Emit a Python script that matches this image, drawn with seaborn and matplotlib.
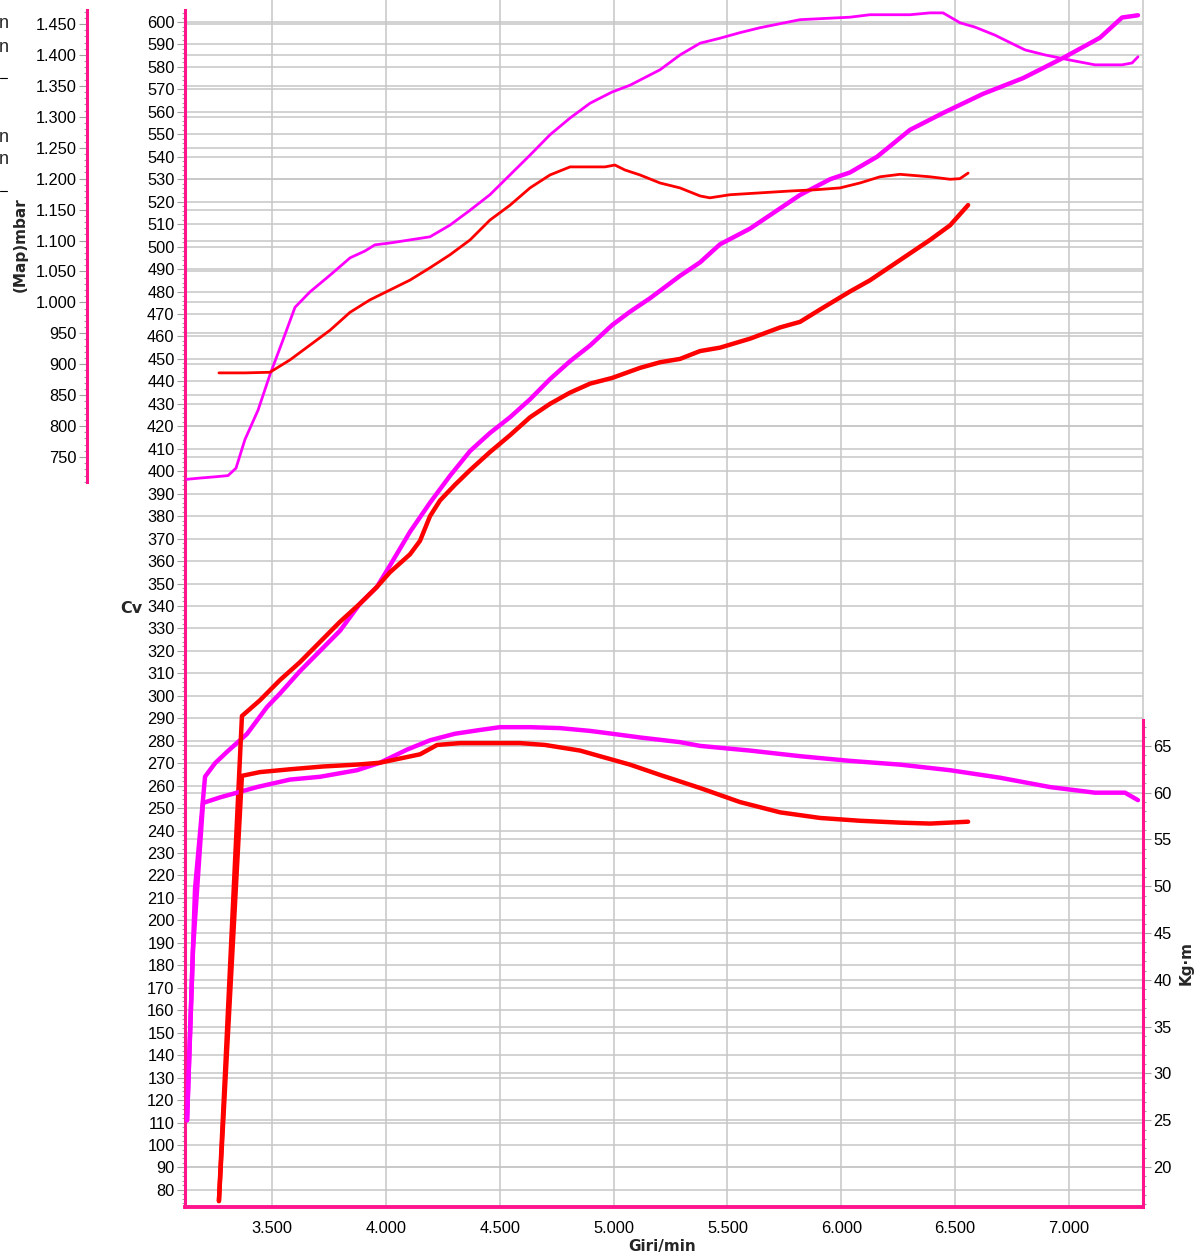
import numpy as np
import seaborn as sns
import matplotlib.pyplot as plt
from matplotlib.ticker import FixedLocator, FuncFormatter
from matplotlib.lines import Line2D

# --- power curves (Cv) ---
pow_mag_rpm = [3127, 3162, 3206, 3250, 3302, 3390, 3478, 3535, 3623, 3711, 3799, 3886, 3961,
               4018, 4106, 4194, 4282, 4370, 4457, 4545, 4633, 4721, 4809, 4897, 4993, 5072,
               5160, 5292, 5380, 5467, 5599, 5731, 5819, 5951, 6038, 6157, 6302, 6447, 6622,
               6798, 6974, 7136, 7233, 7303]
pow_mag_cv = [111, 214, 264, 270, 275, 283, 295, 301, 311, 320, 329, 341, 348.5,
              358, 373, 386, 398, 409, 417, 424, 432, 441, 449, 456, 465, 471,
              477, 487, 493, 501, 508, 517, 523, 530, 533, 540, 552, 559.5, 568,
              575, 584, 593, 602, 603]

pow_red_rpm = [3267, 3368, 3447, 3535, 3623, 3711, 3799, 3886, 3961, 4018, 4106, 4150, 4194,
               4238, 4304, 4370, 4457, 4545, 4633, 4721, 4809, 4897, 4993, 5116, 5204, 5292,
               5380, 5467, 5599, 5731, 5819, 5907, 6038, 6126, 6258, 6390, 6478, 6557]
pow_red_cv = [75, 291, 298, 307, 315, 324, 333, 341, 348.5, 355, 363, 369, 380,
              387, 394, 400.5, 408.5, 416, 424, 430, 435, 439, 441.5, 446, 448.5, 450,
              453.5, 455, 459, 464, 466.5, 472, 480, 485, 494, 503, 509.5, 518.5]

# --- torque curves (Kg*m) ---
trq_mag_rpm = [3127, 3153, 3197, 3272, 3346, 3434, 3579, 3711, 3873, 3974, 4093, 4194, 4304,
               4413, 4501, 4633, 4765, 4897, 4993, 5116, 5292, 5380, 5599, 5819, 6038, 6258,
               6478, 6697, 6917, 7114, 7246, 7303]
trq_mag_kg = [25.0, 43.2, 58.9, 59.5, 60.0, 60.6, 61.4, 61.7, 62.4, 63.2, 64.6, 65.6, 66.3,
              66.7, 67.0, 67.0, 66.9, 66.6, 66.3, 65.9, 65.4, 65.0, 64.5, 63.9, 63.4, 63.0,
              62.4, 61.6, 60.6, 60.0, 60.0, 59.2]

trq_red_rpm = [3267, 3368, 3447, 3579, 3724, 3873, 3974, 4150, 4225, 4326, 4589, 4699, 4853,
               4940, 5072, 5204, 5380, 5555, 5731, 5907, 6082, 6258, 6390, 6557]
trq_red_kg = [16.4, 61.8, 62.2, 62.5, 62.8, 63.0, 63.2, 64.1, 65.1, 65.3, 65.3, 65.1, 64.5,
              63.9, 63.0, 61.9, 60.5, 59.0, 57.9, 57.3, 57.0, 56.8, 56.7, 56.9]

# --- manifold pressure (mbar) ---
map_mag_rpm = [3127, 3184, 3250, 3307, 3342, 3381, 3439, 3491, 3548, 3601, 3667, 3755, 3843,
               3908, 3952, 4018, 4106, 4194, 4282, 4370, 4457, 4545, 4633, 4721, 4809, 4897,
               4993, 5072, 5204, 5292, 5380, 5467, 5555, 5643, 5819, 6038, 6126, 6302, 6390,
               6447, 6521, 6587, 6675, 6763, 6808, 6895, 7000, 7114, 7233, 7277, 7303]
map_mag_mbar = [714, 716, 718, 720, 732, 778, 826, 883, 939, 992, 1017, 1044, 1072,
                1083, 1093, 1096, 1101, 1106, 1125, 1149, 1174, 1206, 1238, 1271, 1298, 1322,
                1340, 1351, 1376, 1400, 1419, 1427, 1436, 1444, 1457, 1461, 1465, 1465, 1468,
                1468, 1452, 1445, 1432, 1416, 1408, 1400, 1392, 1384, 1384, 1387, 1397]

map_red_rpm = [3267, 3381, 3491, 3579, 3667, 3755, 3843, 3930, 4018, 4106, 4194, 4282, 4370,
               4457, 4545, 4633, 4721, 4809, 4897, 4962, 5006, 5050, 5116, 5204, 5292, 5380,
               5423, 5511, 5643, 5775, 5885, 5994, 6082, 6170, 6258, 6390, 6478, 6521, 6557]
map_red_mbar = [886, 886, 887, 907, 931, 955, 984, 1004, 1020, 1036, 1056, 1077, 1101,
                1133, 1157, 1185, 1206, 1219, 1219, 1219, 1222, 1214, 1206, 1193, 1185, 1172,
                1169, 1174, 1177, 1180, 1182, 1185, 1193, 1203, 1207, 1203, 1199, 1200, 1209]

MAG = '#ff00ff'
RED = '#ff0000'
PINK = '#ff148c'
GRID = '#c6c6c6'
TICK = '#a0a0a0'

sns.set_style('white')
plt.rcParams['font.family'] = ['Liberation Sans', 'DejaVu Sans']

def dotted(v, pos):
    return f'{int(round(v)):,}'.replace(',', '.')

W, H = 1197, 1255
fig = plt.figure(figsize=(W / 100, H / 100), dpi=100)
fig.patch.set_facecolor('white')
ax = fig.add_axes([185 / W, 1 - 1207 / H, 958 / W, 1207 / H])
ax.patch.set_visible(False)
ax.set_zorder(1)

# grid-only twins for map and torque scales (drawn below everything)
gm = ax.twinx()
gk = ax.twinx()
axm = ax.twinx()
axk = ax.twinx()
gm.set_zorder(0)
gk.set_zorder(0)
axm.set_zorder(2)
axk.set_zorder(2)

ax.set_xlim(3118, 7325)
ax.set_ylim(72.4, 609.8)
for a in (gm, axm):
    a.set_ylim(-462.4, 1488.8)
for a in (gk, axk):
    a.set_ylim(15.73, 144.7)

# grids
ax.xaxis.set_major_locator(FixedLocator(np.arange(3500, 7001, 500)))
ax.xaxis.set_minor_locator(FixedLocator(np.arange(3125, 7300, 125)))
ax.yaxis.set_major_locator(FixedLocator(np.arange(80, 601, 10)))
ax.yaxis.set_minor_locator(FixedLocator(np.arange(74, 606, 2)))
ax.grid(True, which='major', color=GRID, lw=1.1)
gm.yaxis.set_major_locator(FixedLocator(np.arange(750, 1451, 50)))
gk.yaxis.set_major_locator(FixedLocator(np.arange(20, 66, 5)))
for g in (gm, gk):
    g.grid(True, axis='y', color=GRID, lw=1.1)
    g.tick_params(right=False, labelright=False)
    for s in g.spines.values():
        s.set_visible(False)

# curves
sns.lineplot(x=pow_mag_rpm, y=pow_mag_cv, ax=ax, color=MAG, lw=3.2, sort=False, estimator=None)
sns.lineplot(x=pow_red_rpm, y=pow_red_cv, ax=ax, color=RED, lw=3.2, sort=False, estimator=None)
sns.lineplot(x=map_mag_rpm, y=map_mag_mbar, ax=axm, color=MAG, lw=2.0, sort=False, estimator=None)
sns.lineplot(x=map_red_rpm, y=map_red_mbar, ax=axm, color=RED, lw=2.0, sort=False, estimator=None)
sns.lineplot(x=trq_mag_rpm, y=trq_mag_kg, ax=axk, color=MAG, lw=3.2, sort=False, estimator=None)
sns.lineplot(x=trq_red_rpm, y=trq_red_kg, ax=axk, color=RED, lw=3.2, sort=False, estimator=None)

# main axis (Cv, rpm)
ax.spines['top'].set_visible(False)
ax.spines['right'].set_color(GRID)
ax.spines['right'].set_linewidth(1.1)
ax.spines['left'].set_color(PINK)
ax.spines['left'].set_linewidth(2.2)
ax.spines['left'].set_bounds(72.4, 605.3)
ax.spines['bottom'].set_color(PINK)
ax.spines['bottom'].set_linewidth(2.8)
ax.xaxis.set_major_formatter(FuncFormatter(dotted))
ax.tick_params(axis='both', which='major', direction='out', length=5.5, width=0.8,
               color=TICK, labelsize=11.8, labelcolor='black')
ax.tick_params(axis='both', which='minor', direction='out', length=2.5, width=0.8, color=TICK)
ax.tick_params(axis='y', which='both', pad=2)
ax.tick_params(axis='x', which='both', pad=6)
ax.tick_params(axis='x', which='major', length=4)
ax.set_xlabel('Giri/min', family='DejaVu Sans', fontweight='bold', fontsize=11, va='center')
ax.xaxis.set_label_coords(0.498, -0.0325)
ax.set_ylabel('Cv', family='DejaVu Sans', fontweight='bold', fontsize=11.5, rotation=0,
              ha='center', va='center')
ax.yaxis.set_label_coords(-0.0564, 0.496)

# map axis (far left)
for s in ('top', 'right', 'bottom'):
    axm.spines[s].set_visible(False)
axm.spines['left'].set_visible(True)
axm.spines['left'].set_position(('outward', 70.6))
axm.spines['left'].set_color(PINK)
axm.spines['left'].set_linewidth(2.2)
axm.spines['left'].set_bounds(709.6, 1472.6)
axm.yaxis.set_ticks_position('left')
axm.yaxis.set_label_position('left')
axm.yaxis.set_major_locator(FixedLocator(np.arange(750, 1451, 50)))
axm.yaxis.set_minor_locator(FixedLocator(np.arange(710, 1471, 10)))
axm.yaxis.set_major_formatter(FuncFormatter(dotted))
axm.tick_params(axis='y', which='major', direction='out', length=5.5, width=0.8,
                color=TICK, labelsize=11.8, labelcolor='black', pad=2)
axm.tick_params(axis='y', which='minor', direction='out', length=2.5, width=0.8, color=TICK)
axm.set_ylabel('(Map)mbar', family='DejaVu Sans', fontweight='bold', fontsize=11,
               va='center', ha='center')
axm.yaxis.set_label_coords(-0.1722, 0.797)

# torque axis (right)
for s in ('top', 'left', 'bottom'):
    axk.spines[s].set_visible(False)
axk.spines['right'].set_color(PINK)
axk.spines['right'].set_linewidth(2.2)
axk.spines['right'].set_bounds(15.73, 67.8)
axk.yaxis.set_major_locator(FixedLocator(np.arange(20, 66, 5)))
axk.yaxis.set_minor_locator(FixedLocator(np.arange(16, 68, 1)))
axk.tick_params(axis='y', which='major', direction='out', length=5.5, width=0.8,
                color=TICK, labelsize=11.8, labelcolor='black', pad=2)
axk.tick_params(axis='y', which='minor', direction='out', length=2.5, width=0.8, color=TICK)
axk.set_ylabel('Kg·m', family='DejaVu Sans', fontweight='bold', fontsize=11,
               va='center', ha='center')
axk.yaxis.set_label_coords(1.0455, 0.202)

# labels of hidden axes at the far left edge
for yp in (24, 48, 137, 160):
    fig.text(9 / W, 1 - yp / H, 'n', ha='right', va='center', fontsize=13)
for yp in (78, 191):
    fig.add_artist(Line2D([0, 7 / W], [1 - yp / H, 1 - yp / H], color='black', lw=0.8))

fig.savefig('out.png', dpi=100)
